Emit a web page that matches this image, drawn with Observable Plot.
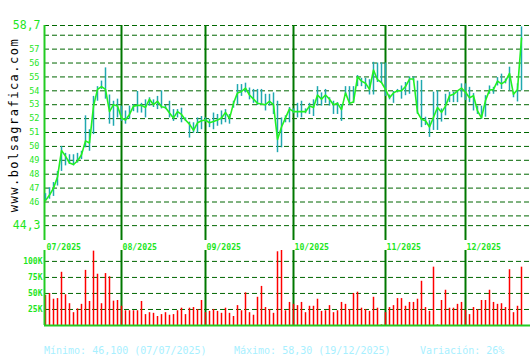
<!DOCTYPE html>
<html>
<head>
<meta charset="utf-8">
<script src="https://cdn.jsdelivr.net/npm/d3@7"></script>
<script src="https://cdn.jsdelivr.net/npm/@observablehq/plot@0.6"></script>
<style>
  html, body { margin: 0; padding: 0; background: #ffffff; }
  #wrap { position: relative; width: 530px; height: 360px; overflow: hidden; background: #fff; font-family: "DejaVu Sans Mono", monospace; }
  #wrap svg { position: absolute; left: 0; overflow: visible; }
  #site { position: absolute; left: 14px; top: 125px; transform: translate(-50%, -50%) rotate(-90deg); white-space: nowrap; font-size: 12px; letter-spacing: 1.5px; color: #000; }
  .foot { position: absolute; top: 345px; font-size: 10px; color: #a8f0ff; white-space: nowrap; }
</style>
</head>
<body>
<div id="wrap">
  <div id="site">www.bolsagrafica.com</div>
  <div id="top"></div>
  <div id="bot"></div>
  <div class="foot" id="f1"></div>
  <div class="foot" id="f2"></div>
  <div class="foot" id="f3"></div>
</div>
<script>
// ---- data (trading days 07/07/2025 .. 19/12/2025) ----
const close = [
  46.1, 46.5, 47.0, 47.8, 49.7, 49.3, 48.8, 48.7, 48.95, 49.4,
  50.4, 50.25, 52.9, 54.1, 54.3, 54.1, 52.5, 53.0, 52.9, 52.05,
  51.9, 52.3, 52.9, 52.95, 52.95, 52.8, 53.4, 53.0, 53.25, 52.85,
  52.8, 52.4, 52.05, 52.5, 52.3, 51.9, 51.6, 51.15, 51.7, 51.85,
  51.9, 51.7, 51.8, 51.9, 52.05, 52.45, 52.0, 53.1, 53.85, 53.95,
  54.2, 53.7, 53.4, 53.1, 53.05, 53.0, 53.25, 53.0, 50.5, 51.4,
  52.05, 52.7, 52.5, 52.5, 52.5, 52.5, 52.9, 52.8, 53.7, 53.4,
  53.7, 53.4, 53.0, 53.1, 52.65, 53.85, 53.1, 53.2, 55.0, 54.7,
  54.55, 54.1, 55.5, 54.8, 54.6, 54.1, 53.5, 53.85, 54.0, 54.0,
  54.3, 54.85, 54.85, 52.45, 51.95, 51.85, 51.4, 52.1, 52.8, 52.45,
  52.9, 53.65, 53.75, 54.0, 54.2, 53.9, 53.5, 53.65, 52.55, 52.05,
  53.3, 54.05, 54.1, 54.7, 54.5, 54.7, 55.25, 53.75, 54.1, 57.8
];
const high = [
  46.6, 47.03, 47.4, 48.2, 50.0, 49.5, 49.4, 49.4, 49.5, 49.65,
  52.2, 51.2, 53.6, 54.3, 54.7, 55.65, 53.7, 53.25, 53.4, 52.9,
  52.55, 52.9, 53.0, 53.95, 53.1, 53.35, 53.5, 53.35, 53.6, 54.0,
  52.95, 53.25, 52.65, 52.65, 52.75, 52.05, 51.75, 51.7, 52.05, 52.15,
  52.05, 51.95, 52.4, 52.3, 52.55, 52.65, 52.3, 53.25, 54.45, 54.45,
  54.55, 54.2, 54.1, 54.1, 54.1, 53.75, 53.75, 53.85, 53.25, 52.05,
  52.2, 52.8, 52.7, 53.1, 53.25, 52.7, 53.1, 53.35, 54.3, 53.85,
  54.1, 53.5, 53.25, 53.15, 53.0, 54.3, 54.3, 54.3, 55.1, 54.9,
  54.9, 54.8, 56.05, 56.0, 56.0, 56.0, 53.7, 53.95, 54.1, 54.35,
  54.6, 55.0, 55.0, 54.7, 54.75, 52.1, 51.85, 53.9, 54.0, 52.7,
  53.75, 53.9, 53.9, 54.0, 54.5, 54.5, 54.25, 53.8, 52.9, 52.9,
  53.65, 54.35, 54.25, 54.95, 55.2, 54.85, 55.7, 53.9, 54.5, 58.6
];
const low = [
  46.1, 46.2, 46.4, 47.15, 48.2, 48.6, 48.7, 48.6, 48.8, 49.05,
  49.9, 49.65, 50.85, 53.25, 54.1, 53.4, 51.6, 51.45, 52.05, 51.8,
  51.6, 51.95, 52.5, 52.4, 52.4, 52.05, 52.9, 52.8, 52.65, 52.7,
  52.65, 52.05, 51.8, 52.05, 51.7, 51.8, 50.6, 50.95, 50.95, 51.2,
  51.75, 51.35, 51.2, 51.45, 51.55, 51.7, 51.6, 52.75, 53.0, 53.6,
  53.85, 53.35, 53.1, 52.95, 52.95, 52.55, 52.9, 52.3, 49.55, 49.9,
  51.7, 51.7, 52.35, 52.05, 52.05, 52.35, 52.3, 52.15, 52.9, 52.9,
  53.1, 52.9, 52.3, 52.3, 51.8, 53.6, 52.95, 53.1, 54.3, 54.3,
  54.1, 53.7, 53.7, 54.6, 54.55, 53.6, 53.35, 53.1, 53.85, 53.4,
  53.65, 53.75, 54.7, 52.3, 51.35, 51.5, 50.65, 51.15, 51.15, 51.75,
  52.2, 53.15, 53.15, 53.15, 53.5, 53.3, 53.15, 52.55, 52.3, 51.95,
  52.1, 53.75, 53.75, 54.35, 54.1, 54.5, 54.0, 53.5, 53.2, 54.0
];
const volumeK = [
  47, 50, 41, 42, 83, 48, 34, 20, 26, 33,
  86, 37.5, 116, 80, 34, 81, 76, 38, 39, 30,
  23, 23, 23, 23, 37.5, 17, 20, 19, 14, 17,
  20, 16, 17, 23, 27, 17, 27, 28, 25, 39,
  20, 22, 25, 22, 19, 27, 19, 14, 31, 23,
  51, 20, 16, 44, 61, 28, 25, 19, 115, 117,
  23, 36, 33, 31, 36, 20, 30, 30, 41, 22,
  23, 31, 20, 23, 36, 33, 25, 50, 52, 27,
  25, 22, 44, 27, 1, 20, 28, 31, 42, 42,
  30, 36, 36, 41, 69, 28, 22, 91, 1, 39,
  55, 27, 27, 33, 36, 24, 17, 28, 25, 39,
  39, 55, 36, 33, 34, 28, 87, 20, 30, 91
];
const monthStart = [0, 19, 40, 62, 85, 105];
const monthLabels = ["07/2025", "08/2025", "09/2025", "10/2025", "11/2025", "12/2025"];
const priceGrid = [44.3, 45, 46, 47, 48, 49, 50, 51, 52, 53, 54, 55, 56, 57, 58, 58.7];
const priceLabels = [46, 47, 48, 49, 50, 51, 52, 53, 54, 55, 56, 57];
const priceEnds = [44.3, 58.7];
const volTicks = [25, 50, 75, 100];
const volLabels = ["25K", "50K", "75K", "100K"];
const footer = ["Mínimo: 46,100 (07/07/2025)", "Máximo: 58,30 (19/12/2025)", "Variación: 26%"];

// ---- build ----
const days = d3.range(close.length);
const xDomain = [-0.25, 121.25];
const gridColor = "#006600";
const monthColor = "#007800";
const axisColor = "#22cc22";
const labelColor = "#1ee61e";
const font = "DejaVu Sans Mono, monospace";

const topChart = Plot.plot({
  width: 530, height: 245,
  marginLeft: 44, marginRight: 0, marginTop: 25, marginBottom: 5,
  x: {domain: xDomain, axis: null},
  y: {domain: [43.23, 58.7], axis: null},
  style: {background: "transparent", fontFamily: font},
  marks: [
    Plot.ruleY(priceGrid, {stroke: gridColor, strokeWidth: 1, strokeDasharray: "5,3"}),
    Plot.ruleX(monthStart.slice(1), {stroke: monthColor, strokeWidth: 2}),
    Plot.ruleX([xDomain[0]], {stroke: axisColor, strokeWidth: 2}),
    Plot.ruleX(days, {x: d => d, y1: d => low[d], y2: d => high[d], stroke: "#20a8b0", strokeWidth: 1.5}),
    Plot.line(days, {x: d => d, y: d => close[d], stroke: "#22f022", strokeWidth: 1.6}),
    Plot.text(priceLabels, {y: d => d, frameAnchor: "left", textAnchor: "end", dx: -5, text: d => String(d), fill: labelColor, fontSize: 8.5}),
    Plot.text(priceEnds, {y: d => d, frameAnchor: "left", textAnchor: "end", dx: -4, text: d => String(d).replace(".", ","), fill: labelColor, fontSize: 11.5})
  ]
});

const botChart = Plot.plot({
  width: 530, height: 90,
  marginLeft: 44, marginRight: 0, marginTop: 10, marginBottom: 5,
  x: {domain: xDomain, axis: null},
  y: {domain: [0, 117], axis: null},
  style: {background: "transparent", fontFamily: font},
  marks: [
    Plot.ruleY(volTicks, {stroke: gridColor, strokeWidth: 1, strokeDasharray: "5,3"}),
    Plot.ruleX(monthStart.slice(1), {stroke: monthColor, strokeWidth: 2}),
    Plot.ruleX(days, {x: d => d, y: d => volumeK[d], stroke: "#ff0000", strokeWidth: 1.5}),
    Plot.ruleY([0], {stroke: axisColor, strokeWidth: 2}),
    Plot.ruleX([xDomain[0]], {stroke: axisColor, strokeWidth: 2}),
    Plot.text(volTicks, {y: d => d, frameAnchor: "left", textAnchor: "end", dx: -2, text: (d, i) => volLabels[i], fill: labelColor, fontSize: 8, fontWeight: "bold"}),
    Plot.text(monthStart, {x: d => d, frameAnchor: "top", dy: -6, dx: 1, textAnchor: "start", text: (d, i) => monthLabels[i], fill: labelColor, fontSize: 8.2, fontWeight: "bold"})
  ]
});

topChart.style.top = "0px";
botChart.style.top = "240px";
document.getElementById("top").appendChild(topChart);
document.getElementById("bot").appendChild(botChart);

const f1 = document.getElementById("f1"), f2 = document.getElementById("f2"), f3 = document.getElementById("f3");
f1.textContent = footer[0]; f1.style.left = "44px";
f2.textContent = footer[1]; f2.style.left = "234px";
f3.textContent = footer[2]; f3.style.left = "420px";
</script>
</body>
</html>
